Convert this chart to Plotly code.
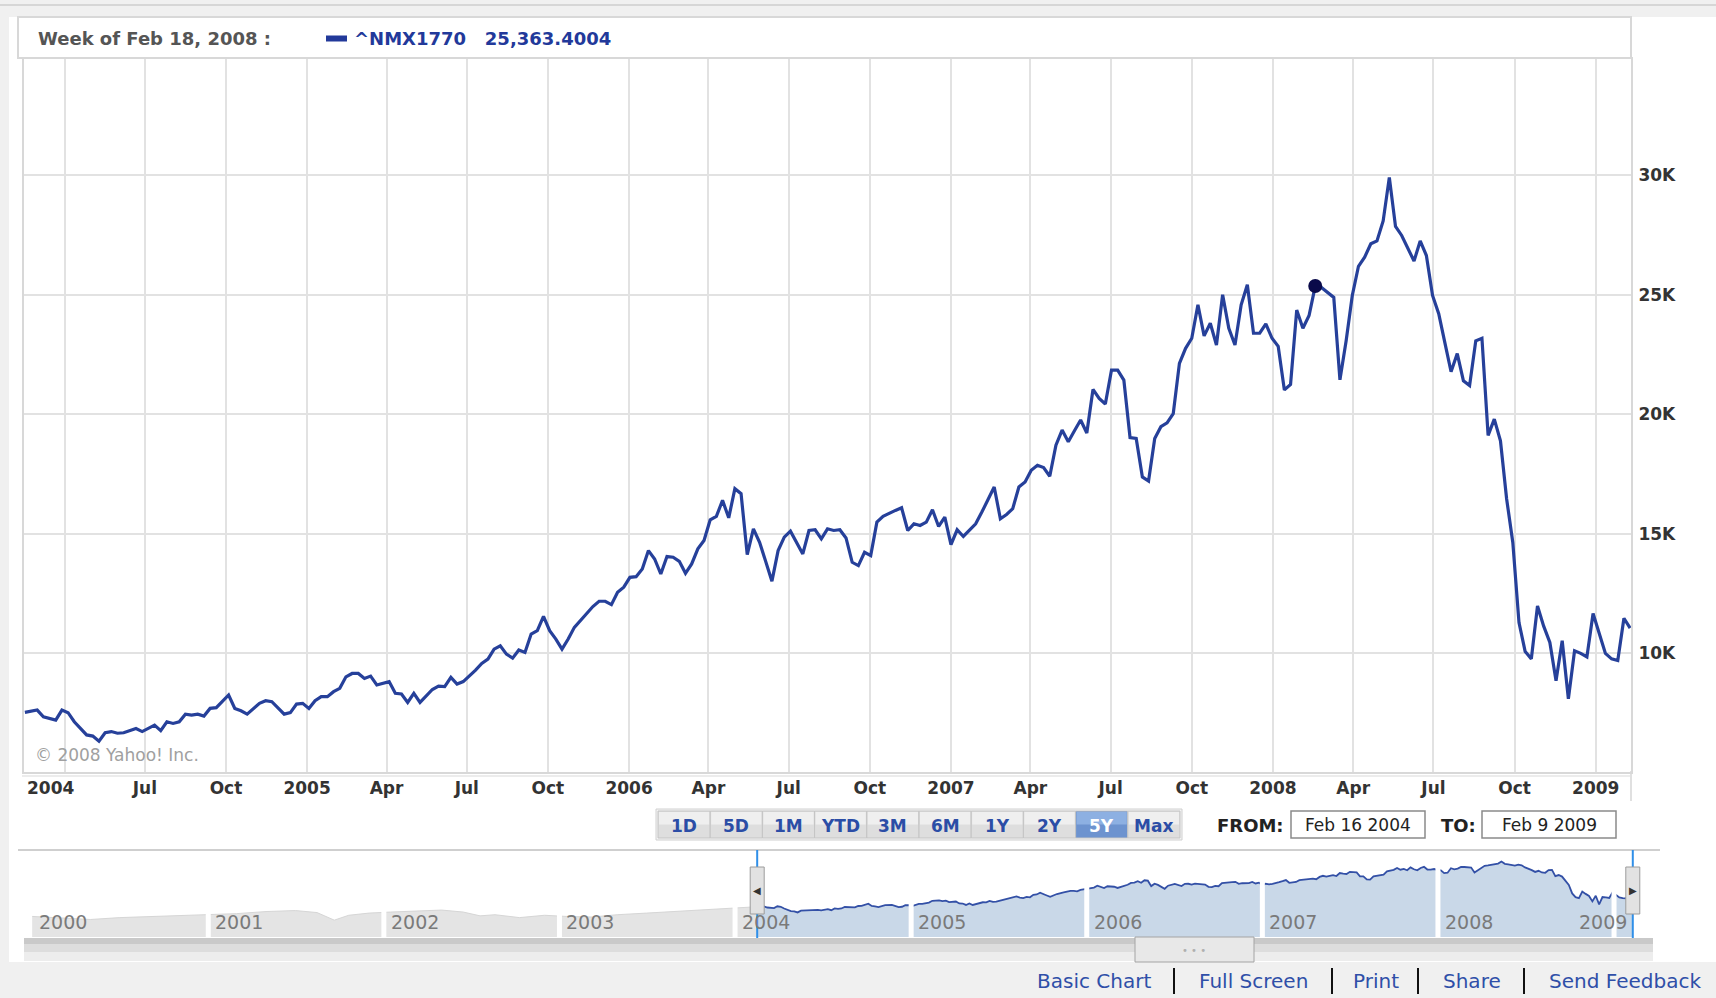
import numpy as np
import pandas as pd
import plotly.graph_objects as go

W, H = 1716, 998

# ---------------- data ----------------
SYMBOL = "^NMX1770"
START = "2004-02-16"          # first weekly bar (Monday)
SELECTED_WEEK = 209           # "Week of Feb 18, 2008"

weeks = [0, 2, 3, 5, 6, 7, 8, 10, 11, 12, 13, 14, 15, 16, 18, 19, 21, 22, 23, 24, 25, 26, 27, 28, 29,
         30, 31, 33, 34, 35, 36, 38, 39, 40, 42, 43, 44, 45, 46, 47, 48, 49, 50, 51, 52, 53, 54, 55, 56,
         57, 59, 60, 61, 62, 63, 64, 66, 67, 68, 69, 70, 71,
         73, 74, 75, 76, 77, 78, 79, 80, 81, 82, 83, 84, 85, 86, 87, 88, 89, 91, 92, 93, 94, 95, 96, 97,
         98, 99, 100, 101, 102, 103, 104, 105, 106, 107, 108, 109, 110, 111, 112, 113, 114, 115, 116,
         117, 118, 119, 120, 121, 122, 123, 124, 126, 127, 128, 129, 130, 131, 132, 133, 134, 135,
         136, 137, 138, 139, 140, 141, 142, 143, 144, 145, 146, 147, 148, 149, 150, 151, 152, 153, 154,
         155, 156, 157, 158, 159, 160, 161, 162, 163, 164, 165, 166, 167, 168, 169, 170, 171, 172, 173,
         174, 175, 176, 177, 178, 179, 180, 181, 182, 183, 184, 185, 186, 187, 188, 189, 190, 191, 192,
         193, 194, 195, 196, 197, 198, 199, 200, 201, 202,
         203, 204, 205, 206, 207, 208, 209, 210, 212, 213, 214, 215, 216, 217, 218, 219, 220, 221, 222,
         223, 224, 225, 226, 227, 228, 229, 230, 231, 232, 233, 234, 235, 236, 237, 238, 239, 240, 241,
         242, 243, 244, 245, 246, 247, 248, 249, 250, 251, 252, 253, 254, 255, 256, 257, 258, 259, 260]

values = [7530, 7630, 7350, 7210, 7630, 7520, 7140, 6590, 6540, 6330, 6680, 6730, 6660, 6680, 6860, 6730,
          7000, 6770, 7140, 7070, 7140, 7460, 7420, 7460, 7380, 7700, 7730, 8260, 7700, 7600, 7460, 7910,
          8020, 7980, 7460, 7520, 7880, 7910, 7700, 8020, 8190, 8190, 8400, 8540, 9020, 9160, 9160, 8950,
          9050, 8680, 8820, 8330, 8300, 7950, 8330, 7950, 8490, 8630, 8610, 9000, 8720, 8820,
          9300, 9580, 9760, 10180, 10320, 9970, 9800, 10140, 10040, 10810, 10950, 11550, 10950, 10600,
          10180, 10600, 11090, 11680, 11960, 12180, 12180, 12040, 12560, 12770, 13180, 13210, 13530,
          14300, 13950, 13320, 14050, 14020, 13850, 13350, 13740, 14370, 14720, 15590, 15730, 16400,
          15670, 16890, 16680, 14130, 15210, 14650, 13880, 13020, 14300, 14860, 15110, 14160, 15140,
          15170, 14790, 15210, 15140, 15170, 14830, 13810, 13670,
          14230, 14090, 15490, 15730, 15870, 15980, 16090, 15140, 15420, 15350, 15490, 16010, 15310,
          15700, 14550, 15170, 14890, 15170, 15420, 15910, 16400, 16960, 15630, 15810, 16050, 16960,
          17170, 17660, 17870, 17770, 17410, 18710, 19340, 18850, 19310, 19760, 19220, 21040, 20660,
          20430, 21850, 21850, 21430, 19030, 18990, 17380, 17210, 18990, 19480, 19640, 20030, 22130,
          22760, 23180, 24580, 23280, 23810, 22900, 25000, 23600, 22900, 24580, 25420, 23390, 23390,
          23780, 23180,
          22840, 21020, 21250, 24360, 23600, 24130, 25363.4004, 25300, 24890, 21440, 23070, 24970,
          26190, 26570, 27130, 27250, 28090, 29910, 27860, 27480, 26950, 26410, 27250, 26640, 24970,
          24210, 22990, 21780, 22540, 21400, 21200, 23070, 23180, 19120, 19800, 18890, 16460, 14640,
          11290, 10080, 9770, 11980, 11140, 10460, 8860, 10530, 8100, 10110, 10000, 9850, 11670, 10840,
          10000, 9770, 9700, 11470, 11060]

tick_dates = ["2004-04-01", "2004-07-01", "2004-10-01", "2005-01-01", "2005-04-01", "2005-07-01",
              "2005-10-01", "2006-01-01", "2006-04-01", "2006-07-01", "2006-10-01", "2007-01-01",
              "2007-04-01", "2007-07-01", "2007-10-01", "2008-01-01", "2008-04-01", "2008-07-01",
              "2008-10-01", "2009-01-01"]
tick_labels = ["", "Jul", "Oct", "2005", "Apr", "Jul", "Oct", "2006", "Apr", "Jul", "Oct", "2007",
               "Apr", "Jul", "Oct", "2008", "Apr", "Jul", "Oct", "2009"]
first_label = "2004"

y_ticks = [10000, 15000, 20000, 25000, 30000]
y_labels = ["10K", "15K", "20K", "25K", "30K"]

# navigator history (grey silhouette before the selected range)
hist_dates = ["2000-01-01", "2000-03-01", "2000-05-01", "2000-07-01", "2000-09-01", "2000-11-01",
              "2001-01-01", "2001-03-01", "2001-05-01", "2001-07-01", "2001-08-15", "2001-09-20",
              "2001-10-20", "2001-12-01", "2002-01-15", "2002-03-01", "2002-05-01", "2002-06-15",
              "2002-07-20", "2002-08-20", "2002-10-10", "2002-12-01", "2003-01-15", "2003-03-10",
              "2003-05-01", "2003-07-01", "2003-09-01", "2003-11-01", "2003-12-15", "2004-02-09"]
hist_values = [5600, 5300, 5100, 5400, 5600, 5700, 5900, 6100, 6500, 6700, 6300, 5000, 5800, 6200,
               6400, 6600, 6800, 6400, 5700, 5900, 5400, 5800, 5600, 5500, 5900, 6200, 6500, 6900,
               7200, 7400]
nav_years = [2000, 2001, 2002, 2003, 2004, 2005, 2006, 2007, 2008, 2009]

range_buttons = ["1D", "5D", "1M", "YTD", "3M", "6M", "1Y", "2Y", "5Y", "Max"]
active_button = "5Y"
links = ["Basic Chart", "Full Screen", "Print", "Share", "Send Feedback"]
link_centers = [1094, 1253, 1376, 1472, 1625]
link_seps = [1174, 1332, 1418, 1524]

# ---------------- helpers ----------------
dates = pd.Timestamp(START) + pd.to_timedelta(np.array(weeks) * 7, unit="D")
sel_idx = weeks.index(SELECTED_WEEK)
sel_date = dates[sel_idx]
sel_val = values[sel_idx]


def px(x):
    return x / W


def py(y):
    return 1 - y / H


BLUE = "#26409a"
FONT = "DejaVu Sans"

fig = go.Figure()

# main line
fig.add_trace(go.Scatter(x=dates, y=values, mode="lines", line=dict(color=BLUE, width=3.2),
                         xaxis="x", yaxis="y", hoverinfo="skip"))
fig.add_trace(go.Scatter(x=[sel_date], y=[sel_val], mode="markers",
                         marker=dict(color="#0a0a4a", size=14), xaxis="x", yaxis="y",
                         hoverinfo="skip"))

# navigator
hist_x = list(pd.to_datetime(hist_dates)) + [dates[0]]
hist_y = hist_values + [values[0]]
fig.add_trace(go.Scatter(x=hist_x, y=hist_y, mode="lines", fill="tozeroy",
                         fillcolor="#e4e4e4", line=dict(color="#d6d6d6", width=1),
                         xaxis="x2", yaxis="y2", hoverinfo="skip"))
fig.add_trace(go.Scatter(x=dates, y=values, mode="lines", fill="tozeroy",
                         fillcolor="#c9d8e8", line=dict(color="#3350a6", width=1.8),
                         xaxis="x2", yaxis="y2", hoverinfo="skip"))

shapes = []
ann = []

# page panels
shapes.append(dict(type="line", xref="paper", yref="paper", x0=0, x1=1, y0=py(5), y1=py(5),
                   line=dict(color="#d6d6d6", width=2), layer="below"))
shapes.append(dict(type="rect", xref="paper", yref="paper", x0=px(9), x1=1, y0=py(962), y1=py(17),
                   fillcolor="white", line=dict(width=0), layer="below"))
shapes.append(dict(type="rect", xref="paper", yref="paper", x0=px(18), x1=px(1631), y0=py(58),
                   y1=py(17), fillcolor="white", line=dict(color="#d8d8d8", width=2), layer="below"))
# legend swatch
shapes.append(dict(type="rect", xref="paper", yref="paper", x0=px(326), x1=px(347), y0=py(41.5),
                   y1=py(35.5), fillcolor="#22399a", line=dict(width=0)))
# x label band lines
shapes.append(dict(type="line", xref="paper", yref="paper", x0=px(22), x1=px(1631), y0=py(776),
                   y1=py(776), line=dict(color="#e6e6e6", width=1.5), layer="below"))
shapes.append(dict(type="line", xref="paper", yref="paper", x0=px(1631), x1=px(1631), y0=py(801),
                   y1=py(771), line=dict(color="#e0e0e0", width=2), layer="below"))

# header texts
ann.append(dict(xref="paper", yref="paper", x=px(36), y=py(38), xanchor="left", yanchor="middle",
                text=f"Week of {sel_date:%b} {sel_date.day}, {sel_date:%Y} :", showarrow=False,
                font=dict(family=FONT, size=18, color="#555555", weight="bold")))
ann.append(dict(xref="paper", yref="paper", x=px(352), y=py(38), xanchor="left", yanchor="middle",
                text=f"{SYMBOL}\u00a0\u00a0 {sel_val:,.4f}", showarrow=False,
                font=dict(family=FONT, size=18, color="#22399a", weight="bold")))
ann.append(dict(xref="paper", yref="paper", x=px(33), y=py(755), xanchor="left", yanchor="middle",
                text="© 2008 Yahoo! Inc.", showarrow=False,
                font=dict(family=FONT, size=17, color="#a0a0a0")))
ann.append(dict(xref="x", yref="paper", x=dates[0], y=py(788), xanchor="left", yanchor="middle",
                text=first_label, showarrow=False,
                font=dict(family=FONT, size=17, color="#333333", weight="bold")))

# range buttons
bx0, bw, by0, by1 = 658, 52.2, 811, 838
shapes.append(dict(type="rect", xref="paper", yref="paper", x0=px(bx0 - 2), x1=px(bx0 + bw * len(range_buttons) + 2),
                   y0=py(by1 + 2), y1=py(by0 - 2), fillcolor="#f4f4f4",
                   line=dict(color="#d0d0d0", width=1)))
for i, b in enumerate(range_buttons):
    x0 = bx0 + i * bw
    act = b == active_button
    shapes.append(dict(type="rect", xref="paper", yref="paper", x0=px(x0), x1=px(x0 + bw),
                       y0=py(by1), y1=py(by0), fillcolor="#6d93cf" if act else "#dedede",
                       line=dict(color="#c4c4c4", width=1)))
    shapes.append(dict(type="rect", xref="paper", yref="paper", x0=px(x0 + 1), x1=px(x0 + bw - 1),
                       y0=py((by0 + by1) / 2), y1=py(by0 + 1), fillcolor="#8db0e2" if act else "#efefef",
                       line=dict(width=0)))
    ann.append(dict(xref="paper", yref="paper", x=px(x0 + bw / 2), y=py((by0 + by1) / 2 + 1),
                    xanchor="center", yanchor="middle", text=b, showarrow=False,
                    font=dict(family=FONT, size=17, color="white" if act else "#2b4da6", weight="bold")))

# FROM / TO
d0, d1 = dates[0], dates[-1]
ann.append(dict(xref="paper", yref="paper", x=px(1250), y=py(825), xanchor="center", yanchor="middle",
                text="FROM:", showarrow=False, font=dict(family=FONT, size=18, color="#222", weight="bold")))
ann.append(dict(xref="paper", yref="paper", x=px(1458), y=py(825), xanchor="center", yanchor="middle",
                text="TO:", showarrow=False, font=dict(family=FONT, size=18, color="#222", weight="bold")))
for (xa, xb), d in [((1291, 1425), d0), ((1482, 1616), d1)]:
    shapes.append(dict(type="rect", xref="paper", yref="paper", x0=px(xa), x1=px(xb), y0=py(838),
                       y1=py(811), fillcolor="white", line=dict(color="#8a8a8a", width=1.5)))
    ann.append(dict(xref="paper", yref="paper", x=px((xa + xb) / 2), y=py(825), xanchor="center",
                    yanchor="middle", text=f"{d:%b} {d.day} {d:%Y}", showarrow=False,
                    font=dict(family=FONT, size=17, color="#222")))

# navigator decorations
nav_top, nav_bot = 850, 937
shapes.append(dict(type="line", xref="paper", yref="paper", x0=px(18), x1=px(1660), y0=py(nav_top),
                   y1=py(nav_top), line=dict(color="#cfcfcf", width=2)))
for yr in nav_years:
    if yr > nav_years[0]:
        shapes.append(dict(type="line", xref="x2", yref="paper", x0=f"{yr}-01-01", x1=f"{yr}-01-01",
                           y0=py(nav_bot), y1=py(nav_top + 2), line=dict(color="white", width=5)))
    if yr == nav_years[-1]:
        # last label does not fit after its year start: right-align it to the range end
        ann.append(dict(xref="x2", yref="paper", x=d1, y=py(922), xanchor="right",
                        yanchor="middle", xshift=-4, text=str(yr), showarrow=False,
                        font=dict(family=FONT, size=19, color="#7a7a7a")))
    else:
        ann.append(dict(xref="x2", yref="paper", x=f"{yr}-01-01", y=py(922), xanchor="left",
                        yanchor="middle", xshift=5, text=str(yr), showarrow=False,
                        font=dict(family=FONT, size=19, color="#7a7a7a")))
for d, arrow in [(d0, "◀"), (d1, "▶")]:
    shapes.append(dict(type="line", xref="x2", yref="paper", x0=d, x1=d, y0=py(nav_bot + 1),
                       y1=py(nav_top), line=dict(color="#2f8fe8", width=2)))
    shapes.append(dict(type="rect", xref="x2", yref="paper", xsizemode="pixel", xanchor=d, x0=-7, x1=7,
                       y0=py(914), y1=py(867), fillcolor="#e2e2e2", line=dict(color="#9c9c9c", width=1)))
    ann.append(dict(xref="x2", yref="paper", x=d, y=py(890), xanchor="center", yanchor="middle",
                    text=arrow, showarrow=False, font=dict(family=FONT, size=10, color="#333")))

# scrollbar
shapes.append(dict(type="rect", xref="paper", yref="paper", x0=px(24), x1=px(1653), y0=py(961),
                   y1=py(938), fillcolor="#dddddd", line=dict(width=0)))
shapes.append(dict(type="rect", xref="paper", yref="paper", x0=px(24), x1=px(1653), y0=py(944),
                   y1=py(938), fillcolor="#c9c9c9", line=dict(width=0)))
shapes.append(dict(type="rect", xref="paper", yref="paper", x0=px(24), x1=px(1653), y0=py(961),
                   y1=py(952), fillcolor="#ededed", line=dict(width=0)))
shapes.append(dict(type="rect", xref="paper", yref="paper", x0=px(1135), x1=px(1254), y0=py(962),
                   y1=py(937), fillcolor="#e8e8e8", line=dict(color="#a4a4a4", width=1)))
ann.append(dict(xref="paper", yref="paper", x=px(1194), y=py(950), xanchor="center", yanchor="middle",
                text="• • •", showarrow=False, font=dict(family=FONT, size=10, color="#b0b0b0")))

# footer links
for t, c in zip(links, link_centers):
    ann.append(dict(xref="paper", yref="paper", x=px(c), y=py(981), xanchor="center", yanchor="middle",
                    text=t, showarrow=False, font=dict(family=FONT, size=20, color="#2f4fa8")))
for s in link_seps:
    shapes.append(dict(type="line", xref="paper", yref="paper", x0=px(s), x1=px(s), y0=py(994),
                       y1=py(968), line=dict(color="#111", width=2)))

fig.update_layout(
    width=W, height=H, margin=dict(l=0, r=0, t=0, b=0, pad=0),
    paper_bgcolor="#f0f0f0", plot_bgcolor="white", showlegend=False, hovermode=False,
    font=dict(family=FONT),
    xaxis=dict(domain=[px(24), px(1631)], type="date", anchor="y",
               range=[dates[0] - pd.Timedelta(days=1), dates[-1] + pd.Timedelta(days=1)],
               tickvals=tick_dates, ticktext=tick_labels, ticks="", showgrid=True,
               gridcolor="#e2e2e2", gridwidth=2, zeroline=False, showline=True, mirror=True,
               linecolor="#d8d8d8", linewidth=2,
               tickfont=dict(family=FONT, size=17, color="#333333", weight="bold")),
    yaxis=dict(domain=[py(771.5), py(59)], range=[5060, 34860], side="right", anchor="x",
               tickvals=y_ticks, ticktext=y_labels, ticks="", showgrid=True, gridcolor="#e2e2e2",
               gridwidth=2, zeroline=False, showline=True, mirror=True, linecolor="#d8d8d8",
               linewidth=2, ticklabelstandoff=2,
               tickfont=dict(family=FONT, size=17, color="#333333", weight="bold")),
    xaxis2=dict(domain=[px(24), px(1653)], type="date", anchor="y2",
                range=["1999-12-15", "2009-03-23"], visible=False),
    yaxis2=dict(domain=[py(nav_bot), py(nav_top)], type="log", anchor="x2",
                range=[np.log10(2990), np.log10(42500)], visible=False),
    shapes=shapes, annotations=ann,
)

fig.write_html("out.html", config={"displayModeBar": False},
               post_script="document.body.style.margin='0';document.body.style.overflow='hidden';")
